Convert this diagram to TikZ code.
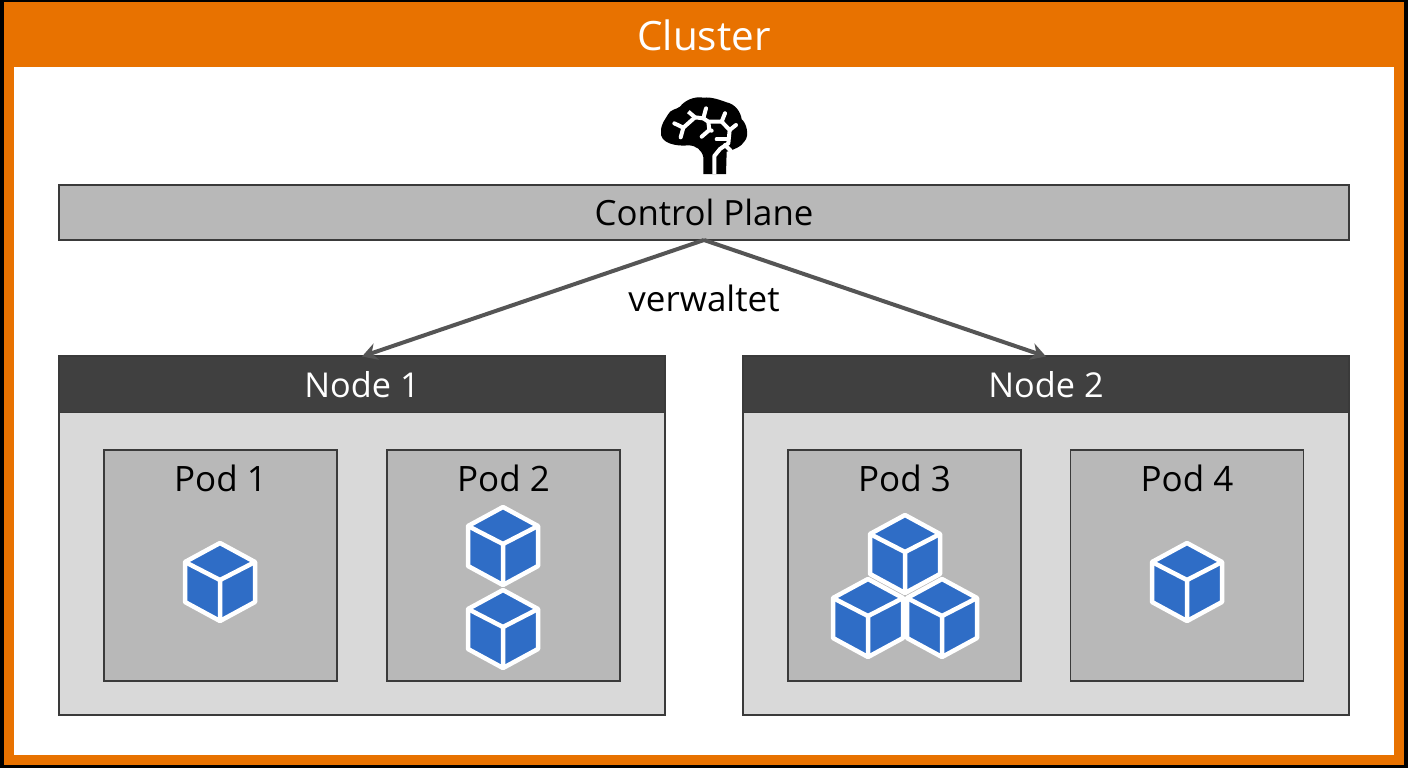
\documentclass[tikz,border=0pt]{standalone}
\usepackage{fontspec}
\setmainfont{Open Sans}
\usetikzlibrary{arrows.meta}
\newcommand{\px}{0.02cm}
\definecolor{clusterorange}{HTML}{E87200}
\definecolor{planegray}{HTML}{B8B8B8}
\definecolor{bodygray}{HTML}{D9D9D9}
\definecolor{headdark}{HTML}{404040}
\definecolor{edgedark}{HTML}{3A3A3A}
\definecolor{cubeblue}{HTML}{2F6DC6}
\definecolor{arrowgray}{HTML}{555555}
\tikzset{
    box/.style={draw=edgedark, line width=1.2*\px, inner sep=0, outer sep=0},
    plane/.style={box, fill=planegray, minimum width=1290*\px, minimum height=55*\px, font=\fontsize{19.8}{24}\selectfont},
    nodehead/.style={box, fill=headdark, text=white, minimum width=606*\px, minimum height=56*\px, font=\fontsize{19.5}{23}\selectfont},
    nodebody/.style={box, fill=bodygray, minimum width=606*\px, minimum height=359*\px},
    podbox/.style={box, fill=planegray, minimum width=233*\px, minimum height=231*\px},
    lbl/.style={inner sep=0, font=\fontsize{19.9}{24}\selectfont},
    manage/.style={draw=arrowgray, line width=4*\px, -{Stealth[length=15*\px, width=17*\px]}},
    synapse/.style={draw=white, line width=4*\px, line cap=round, line join=round},
    cube/.pic={
        \filldraw [fill=cubeblue, draw=white, line width=4.5*\px, line join=round]
            (0,-39) -- (35,-20) -- (35,20) -- (0,39) -- (-35,20) -- (-35,-20) -- cycle;
        \draw [white, line width=4.5*\px, line join=round]
            (-35,-20) -- (0,-2) -- (35,-20) (0,-2) -- (0,39);
    }
}
\begin{document}
\begin{tikzpicture}[x=\px, y=-\px]
    \useasboundingbox (0,0) rectangle (1408,768);
    \fill [black] (0,0) rectangle (1408,768);
    \fill [clusterorange] (4,2) rectangle (1404,765);
    \fill [white] (14,67) rectangle (1394,755);
    \node [inner sep=0, text=white, font=\fontsize{23}{28}\selectfont] (cluster) at (704,35) {Cluster};

    % brain
    \begin{scope}[shift={(620,80)}, x=\px/3, y=-\px/3]
        \fill [black] (250,282) -- (250,232) to[out=100, in=0] (205,196)
            .. controls (170,200) and (118,190) .. (123,155)
            .. controls (123,130) and (135,120) .. (143,105)
            .. controls (150,88) and (170,88) .. (180,80)
            .. controls (195,60) and (225,48) .. (250,53)
            .. controls (275,50) and (300,60) .. (320,67)
            .. controls (345,72) and (362,95) .. (365,118)
            .. controls (380,130) and (388,165) .. (375,182)
            .. controls (365,200) and (340,210) .. (320,215)
            -- (318,282) -- cycle;
        \draw [synapse, line cap=butt] (283,282) -- (283,228) -- (300,207) -- (325,190) -- (329,150) -- (305,125)
            -- (265,125) -- (250,115) -- (225,112) -- (205,95);
        \draw [synapse] (250,115) -- (258,85);
        \draw [synapse] (225,112) -- (190,143) -- (163,130);
        \draw [synapse] (190,143) -- (182,172);
        \draw [synapse] (265,125) -- (268,150) -- (245,170);
        \draw [synapse] (268,150) -- (275,152);
        \draw [synapse] (305,125) -- (315,100);
        \draw [synapse] (329,150) -- (348,135);
        \draw [synapse] (322,178) -- (290,178);
        \draw [synapse] (315,195) -- (332,212);
    \end{scope}

    \node [plane] (control) at (704,212.5) {Control Plane};

    \node [nodebody] (body1) at (362,535.5) {};
    \node [nodehead] (node1) at (362,384.5) {Node 1};
    \node [nodebody] (body2) at (1046,535.5) {};
    \node [nodehead] (node2) at (1046,384.5) {Node 2};

    \foreach \n/\x in {1/220.5, 2/503.5, 3/904.5, 4/1187} {
        \node [podbox] (pod\n) at (\x,565.5) {};
        \node [lbl] (label\n) at (\x,478.5) {Pod \n};
    }

    \foreach \x/\y in {220/582, 503/546, 503/629, 905/554, 868/618, 942/618, 1187/582}
        \pic at (\x,\y) {cube};

    \draw [manage] (control.south) -- (node1.north);
    \draw [manage] (control.south) -- (node2.north);
    \node [lbl] (manages) at (704,298.5) {verwaltet};
\end{tikzpicture}
\end{document}
